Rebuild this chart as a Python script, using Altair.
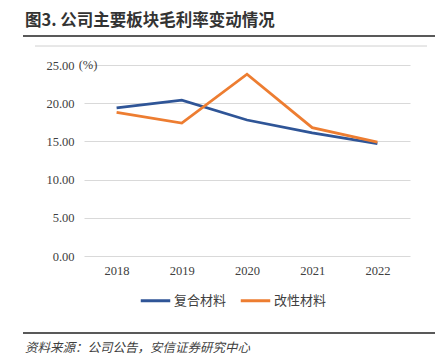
import altair as alt
import pandas as pd

years = ["2018", "2019", "2020", "2021", "2022"]
composite = [19.4, 20.4, 17.8, 16.1, 14.7]
modified = [18.8, 17.4, 23.8, 16.8, 14.9]
series_names = ["复合材料", "改性材料"]
colors = ["#2F5597", "#ED7D31"]
y_ticks = [0, 5, 10, 15, 20, 25]

rows = []
for y, a, b in zip(years, composite, modified):
    rows.append({"year": y, "series": series_names[0], "value": a})
    rows.append({"year": y, "series": series_names[1], "value": b})
df = pd.DataFrame(rows)

W, H = 326, 191

lines = alt.Chart(df).mark_line(strokeWidth=2.8).encode(
    x=alt.X("year:O", sort=years, title=None,
            scale=alt.Scale(type="point", padding=0.5),
            axis=alt.Axis(labelAngle=0, ticks=False, domain=False, labelPadding=8,
                          labelFont="Liberation Serif", labelFontSize=12.5,
                          labelColor="#404040")),
    y=alt.Y("value:Q", title=None,
            scale=alt.Scale(domain=[0, 25], nice=False),
            axis=alt.Axis(values=y_ticks, format=".2f", ticks=False, domain=False,
                          labelPadding=10, gridColor="#d9d9d9", gridWidth=1,
                          labelFont="Liberation Serif", labelFontSize=12.5,
                          labelColor="#404040")),
    color=alt.Color("series:N", sort=series_names,
                    scale=alt.Scale(domain=series_names, range=colors),
                    legend=alt.Legend(title=None, orient="none", direction="horizontal",
                                      legendX=55, legendY=219, symbolType="stroke",
                                      symbolSize=870, symbolStrokeWidth=3,
                                      labelFont="Noto Sans CJK SC", labelFontSize=13,
                                      labelColor="#404040", columnPadding=7,
                                      labelOffset=2)),
)

def txt(s, x, y, **kw):
    return alt.Chart(pd.DataFrame({"t": [s]})).mark_text(**kw).encode(
        text="t:N", x=alt.value(x), y=alt.value(y))

def rule(x1, x2, y, color, w):
    return alt.Chart(pd.DataFrame({"a": [0]})).mark_rule(color=color, strokeWidth=w).encode(
        x=alt.value(x1), x2=alt.value(x2), y=alt.value(y))

title = txt("图3. 公司主要板块毛利率变动情况", -59, -44, align="left", baseline="middle",
            font="Noto Sans CJK SC", fontSize=16.5, fontWeight="bold", color="#333333")
unit = txt("(%)", 4, 0, align="center", baseline="middle",
           font="Liberation Serif", fontSize=12.5, color="#404040")
source = txt("资料来源：公司公告，安信证券研究中心", -59, 283, align="left", baseline="middle",
             font="Noto Sans CJK SC", fontSize=12.5, fontStyle="italic", color="#404040")

chart = alt.layer(
    lines, title, unit, source,
    rule(-61, 359, -29, "#222222", 1.5),
    rule(-49, 343, -19, "#d0d0d0", 1),
    rule(-61, 359, 268, "#222222", 1.5),
    rule(-84, -79, -30, "#222222", 1.5),
).properties(
    width=W, height=H,
    autosize=alt.AutoSizeParams(type="none"),
    padding={"left": 76, "top": 57, "right": 25, "bottom": 100},
).configure_view(stroke=None)

chart.save("out.html", embed_options={"renderer": "svg", "actions": False})
